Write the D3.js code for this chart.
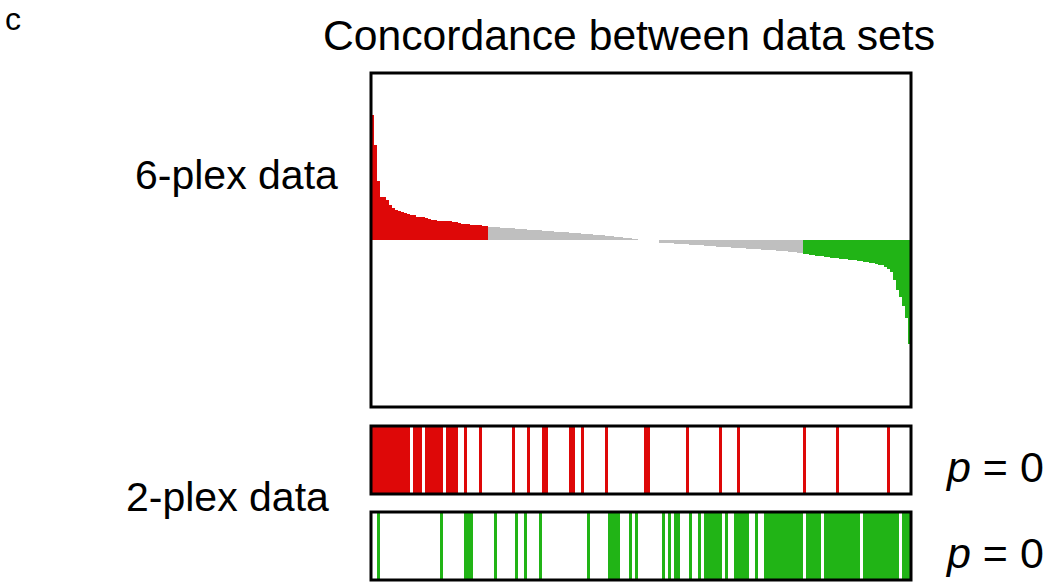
<!DOCTYPE html>
<html>
<head>
<meta charset="utf-8">
<script src="https://cdn.jsdelivr.net/npm/d3@7"></script>
<style>
  html, body { margin: 0; padding: 0; background: #fff; }
  svg { display: block; font-family: "Liberation Sans", Arial, sans-serif; }
</style>
</head>
<body>
<svg id="chart" width="1052" height="586"></svg>
<script>
// Ranked 6-plex log ratios, split by regulation class (left to right)
const upRegulated = [
  1.50, 1.14, 0.71, 0.51, 0.51, 0.48, 0.42, 0.38, 0.36, 0.35,
  0.335, 0.32, 0.31, 0.305, 0.30, 0.28, 0.275, 0.27, 0.263, 0.25,
  0.245, 0.24, 0.233, 0.228, 0.228, 0.222, 0.222, 0.216, 0.21, 0.198,
  0.192, 0.192, 0.186, 0.18, 0.18, 0.174, 0.174, 0.168, 0.168
];
const unchangedHigh = [
  0.160, 0.157, 0.154, 0.152, 0.149, 0.146, 0.143, 0.141, 0.138, 0.135,
  0.133, 0.130, 0.127, 0.125, 0.122, 0.119, 0.117, 0.114, 0.111, 0.109,
  0.106, 0.103, 0.101, 0.098, 0.095, 0.093, 0.090, 0.087, 0.085, 0.082,
  0.079, 0.076, 0.073, 0.070, 0.067, 0.064, 0.061, 0.058, 0.055, 0.052,
  0.048, 0.045, 0.041, 0.037, 0.033, 0.029, 0.024, 0.019, 0.014, 0.009
];
const noChange = [0, 0, 0, 0, 0, 0, 0];
const unchangedLow = [
  -0.030, -0.033, -0.035, -0.038, -0.040, -0.043, -0.045, -0.048, -0.050, -0.053,
  -0.055, -0.058, -0.060, -0.063, -0.065, -0.068, -0.070, -0.073, -0.075, -0.078,
  -0.080, -0.083, -0.085, -0.088, -0.090, -0.093, -0.095, -0.098, -0.100, -0.103,
  -0.105, -0.108, -0.110, -0.113, -0.115, -0.118, -0.120, -0.123, -0.125, -0.128,
  -0.131, -0.134, -0.137, -0.140, -0.143, -0.146, -0.150, -0.155
];
const downRegulated = [
  -0.168, -0.172, -0.177, -0.181, -0.186, -0.190, -0.195, -0.200, -0.205, -0.212,
  -0.216, -0.220, -0.224, -0.228, -0.232, -0.236, -0.240, -0.245, -0.250, -0.256,
  -0.262, -0.268, -0.274, -0.280, -0.287, -0.295, -0.304, -0.318, -0.345, -0.38,
  -0.48, -0.60, -0.68, -0.79, -0.93, -1.25
];

// Ranks (in the 6-plex ordering) of proteins called up / down in the 2-plex set
const twoPlexUpRanks = [
  0, 1, 2, 3, 4, 5, 6, 7, 8, 9, 10, 11, 12, 14, 15, 16, 18, 19, 20, 21, 22, 23,
  25, 26, 27, 28, 31, 36, 47, 52, 57, 58, 66, 67, 70, 78, 91, 92, 105, 116, 122,
  144, 155, 172
];
const twoPlexDownRanks = [
  2, 23, 31, 32, 33, 41, 48, 51, 56, 72, 79, 80, 81, 82, 86, 88, 97, 99, 101, 102,
  106, 109, 111, 112, 113, 114, 115, 116, 118, 121, 122, 123, 124, 125, 128,
  131, 132, 133, 134, 135, 136, 137, 138, 139, 140, 141, 142, 143, 145, 146, 147,
  148, 149, 151, 152, 153, 154, 155, 156, 157, 158, 159, 160, 161, 162, 164, 165,
  166, 167, 168, 169, 170, 171, 172, 173, 174, 175, 177, 178, 179
];

const pValues = ["0", "0"];

const colors = { up: "#de0808", flatHigh: "#bfbfbf", none: "#bfbfbf", flatLow: "#bfbfbf", down: "#21b416" };

const ranked = [
  ...upRegulated.map(v => ({ v, cls: "up" })),
  ...unchangedHigh.map(v => ({ v, cls: "flatHigh" })),
  ...noChange.map(v => ({ v, cls: "none" })),
  ...unchangedLow.map(v => ({ v, cls: "flatLow" })),
  ...downRegulated.map(v => ({ v, cls: "down" }))
].map((d, i) => ({ ...d, rank: i }));

const svg = d3.select("#chart");
const left = 371, right = 911;

const x = d3.scaleBand().domain(d3.range(ranked.length)).range([left, right]).padding(0);
const y = d3.scaleLinear().domain([-2, 2]).range([407, 73]);

// Panel letter, title and row labels
svg.append("text").attr("x", 5).attr("y", 30).attr("font-size", 32).text("c");
svg.append("text").attr("x", 629).attr("y", 50).attr("font-size", 43)
  .attr("text-anchor", "middle").attr("textLength", 612).attr("lengthAdjust", "spacingAndGlyphs")
  .text("Concordance between data sets");
svg.append("text").attr("x", 135).attr("y", 189).attr("font-size", 41).text("6-plex data");
svg.append("text").attr("x", 126).attr("y", 511).attr("font-size", 41).text("2-plex data");

// Ranked bar profile
svg.append("g").attr("shape-rendering", "crispEdges")
  .selectAll("rect").data(ranked.filter(d => d.v !== 0)).join("rect")
  .attr("x", d => x(d.rank))
  .attr("width", x.bandwidth())
  .attr("y", d => y(Math.max(0, d.v)))
  .attr("height", d => Math.abs(y(d.v) - y(0)))
  .attr("fill", d => colors[d.cls]);

svg.append("rect").attr("x", left).attr("y", 73).attr("width", right - left).attr("height", 407 - 73)
  .attr("fill", "none").attr("stroke", "#000").attr("stroke-width", 3);

// Barcode strips for the 2-plex hits
const strips = [
  { ranks: twoPlexUpRanks, color: colors.up, top: 426, bottom: 494, p: pValues[0] },
  { ranks: twoPlexDownRanks, color: colors.down, top: 512, bottom: 580, p: pValues[1] }
];

strips.forEach(s => {
  svg.append("g").attr("shape-rendering", "crispEdges")
    .selectAll("rect").data(s.ranks).join("rect")
    .attr("x", r => x(r))
    .attr("width", x.bandwidth())
    .attr("y", s.top)
    .attr("height", s.bottom - s.top)
    .attr("fill", s.color);
  svg.append("rect").attr("x", left).attr("y", s.top).attr("width", right - left)
    .attr("height", s.bottom - s.top)
    .attr("fill", "none").attr("stroke", "#000").attr("stroke-width", 3);
  const t = svg.append("text").attr("x", 947).attr("y", (s.top + s.bottom) / 2 + 22).attr("font-size", 43);
  t.append("tspan").attr("font-style", "italic").text("p");
  t.append("tspan").text(" = " + s.p);
});
</script>
</body>
</html>
